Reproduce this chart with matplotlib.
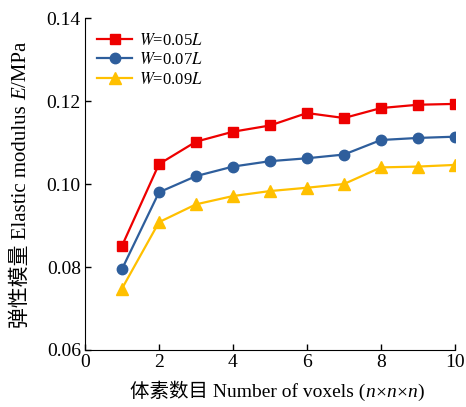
import matplotlib
matplotlib.use("Agg")
import matplotlib.pyplot as plt
from matplotlib.transforms import IdentityTransform

plt.rcParams['font.family'] = ['Liberation Serif', 'Noto Sans CJK SC']
plt.rcParams['mathtext.fontset'] = 'stix'

voxels = [1, 2, 3, 4, 5, 6, 7, 8, 9, 10]
e_005 = [0.0851, 0.1048, 0.1102, 0.1126, 0.1141, 0.1171, 0.1159, 0.1183, 0.1191, 0.1193]
e_007 = [0.0795, 0.0980, 0.1019, 0.1042, 0.1055, 0.1062, 0.1071, 0.1106, 0.1111, 0.1114]
e_009 = [0.0748, 0.0908, 0.0951, 0.0971, 0.0983, 0.0991, 0.1000, 0.1040, 0.1042, 0.1046]
labels = ['$W$=0.05$L$', '$W$=0.07$L$', '$W$=0.09$L$']

W, H = 466, 407
fig = plt.figure(figsize=(W / 100, H / 100), dpi=100)
ax = fig.add_axes([85 / W, (H - 350) / H, 370 / W, 332 / H])

ax.plot(voxels, e_005, color='#ee0000', marker='s', markersize=7, linewidth=1.6, label=labels[0])
ax.plot(voxels, e_007, color='#2e5e9c', marker='o', markersize=7.5, linewidth=1.6, label=labels[1])
ax.plot(voxels, e_009, color='#ffc000', marker='^', markersize=9, linewidth=1.6, label=labels[2])

ax.set_xlim(0, 10)
ax.set_ylim(0.06, 0.14)
ax.set_xticks([0, 2, 4, 6, 8, 10])
ax.set_yticks([0.06, 0.08, 0.10, 0.12, 0.14])
ax.set_yticklabels(['0.06', '0.08', '0.10', '0.12', '0.14'])
ax.tick_params(direction='in', labelsize=14, length=4, width=1, pad=3)
ax.spines['top'].set_visible(False)
ax.spines['right'].set_visible(False)

ax.legend(loc='upper left', frameon=False, fontsize=12, handlelength=2.1,
          handletextpad=0.4, borderaxespad=0.0, labelspacing=0.2,
          bbox_to_anchor=(0.015, 0.975))


# axis labels with italic pieces, placed in pixel coordinates
def put_pieces(pieces, center, base, rotation, size):
    renderer = fig.canvas.get_renderer()
    texts = []
    for s, st in pieces:
        t = fig.text(0, 0, s, fontsize=size, style=st, rotation=rotation,
                     rotation_mode='anchor', ha='left', va='baseline',
                     transform=IdentityTransform())
        texts.append(t)
    sizes = []
    for t in texts:
        bb = t.get_window_extent(renderer)
        sizes.append(bb.height if rotation else bb.width)
    pos = center - sum(sizes) / 2
    for t, s in zip(texts, sizes):
        if rotation:
            t.set_position((base, pos))
        else:
            t.set_position((pos, base))
        pos += s


put_pieces([('体素数目 Number of voxels (', 'normal'), ('n', 'italic'), ('×', 'normal'),
            ('n', 'italic'), ('×', 'normal'), ('n', 'italic'), (')', 'normal')],
           277, H - 397, 0, 14)
put_pieces([('弹性模量 Elastic modulus ', 'normal'), ('E', 'italic'), ('/MPa', 'normal')],
           H - 185, 26, 90, 15)

fig.savefig('out.png', dpi=100)
